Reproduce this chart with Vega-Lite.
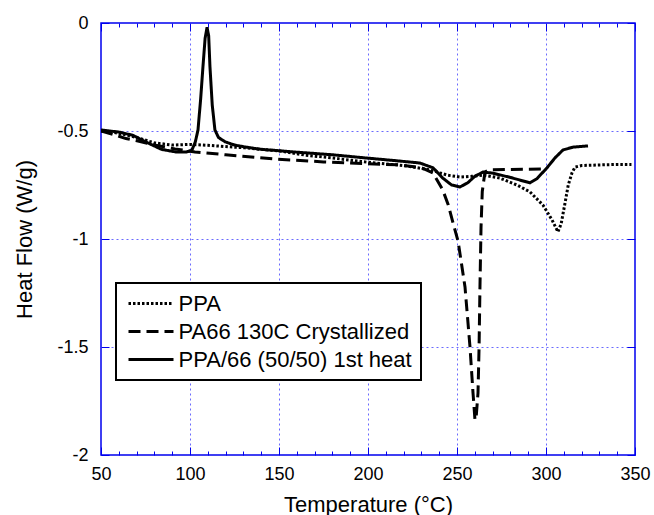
{
  "$schema": "https://vega.github.io/schema/vega-lite/v6.json",
  "width": 534,
  "height": 432,
  "autosize": {"type": "none"},
  "padding": {"left": 101, "top": 23, "right": 19, "bottom": 60},
  "config": {
    "view": {"stroke": "#0000ee", "strokeWidth": 1.5},
    "font": "Liberation Sans",
    "legend": {"strokeWidth": 2}
  },
  "data": {"values": [
    {"s": "PPA", "t": 50, "hf": -0.5},
    {"s": "PPA", "t": 60, "hf": -0.51},
    {"s": "PPA", "t": 70, "hf": -0.53},
    {"s": "PPA", "t": 80, "hf": -0.555},
    {"s": "PPA", "t": 90, "hf": -0.565},
    {"s": "PPA", "t": 100, "hf": -0.562},
    {"s": "PPA", "t": 110, "hf": -0.566},
    {"s": "PPA", "t": 120, "hf": -0.572},
    {"s": "PPA", "t": 131, "hf": -0.578},
    {"s": "PPA", "t": 140, "hf": -0.585},
    {"s": "PPA", "t": 150, "hf": -0.592},
    {"s": "PPA", "t": 165, "hf": -0.612},
    {"s": "PPA", "t": 180, "hf": -0.625},
    {"s": "PPA", "t": 200, "hf": -0.645},
    {"s": "PPA", "t": 220, "hf": -0.66},
    {"s": "PPA", "t": 235, "hf": -0.68},
    {"s": "PPA", "t": 240.4, "hf": -0.694},
    {"s": "PPA", "t": 245, "hf": -0.705},
    {"s": "PPA", "t": 251.7, "hf": -0.713},
    {"s": "PPA", "t": 258, "hf": -0.71},
    {"s": "PPA", "t": 264.6, "hf": -0.704},
    {"s": "PPA", "t": 274, "hf": -0.718},
    {"s": "PPA", "t": 283.7, "hf": -0.75},
    {"s": "PPA", "t": 291, "hf": -0.782},
    {"s": "PPA", "t": 298.3, "hf": -0.843},
    {"s": "PPA", "t": 303.4, "hf": -0.912},
    {"s": "PPA", "t": 306.7, "hf": -0.967},
    {"s": "PPA", "t": 308.5, "hf": -0.93},
    {"s": "PPA", "t": 310.7, "hf": -0.833},
    {"s": "PPA", "t": 312.5, "hf": -0.75},
    {"s": "PPA", "t": 314.6, "hf": -0.694},
    {"s": "PPA", "t": 316.3, "hf": -0.667},
    {"s": "PPA", "t": 320, "hf": -0.66},
    {"s": "PPA", "t": 330, "hf": -0.657},
    {"s": "PPA", "t": 340, "hf": -0.655},
    {"s": "PPA", "t": 348, "hf": -0.655},
    {"s": "PA66 130C Crystallized", "t": 50, "hf": -0.5},
    {"s": "PA66 130C Crystallized", "t": 57.9, "hf": -0.518},
    {"s": "PA66 130C Crystallized", "t": 64, "hf": -0.535},
    {"s": "PA66 130C Crystallized", "t": 70.8, "hf": -0.546},
    {"s": "PA66 130C Crystallized", "t": 80, "hf": -0.565},
    {"s": "PA66 130C Crystallized", "t": 91.6, "hf": -0.583},
    {"s": "PA66 130C Crystallized", "t": 102.8, "hf": -0.597},
    {"s": "PA66 130C Crystallized", "t": 120, "hf": -0.61},
    {"s": "PA66 130C Crystallized", "t": 147.8, "hf": -0.63},
    {"s": "PA66 130C Crystallized", "t": 175, "hf": -0.643},
    {"s": "PA66 130C Crystallized", "t": 200, "hf": -0.652},
    {"s": "PA66 130C Crystallized", "t": 218, "hf": -0.657},
    {"s": "PA66 130C Crystallized", "t": 230, "hf": -0.67},
    {"s": "PA66 130C Crystallized", "t": 236.5, "hf": -0.694},
    {"s": "PA66 130C Crystallized", "t": 242, "hf": -0.773},
    {"s": "PA66 130C Crystallized", "t": 245, "hf": -0.84},
    {"s": "PA66 130C Crystallized", "t": 247.8, "hf": -0.926},
    {"s": "PA66 130C Crystallized", "t": 250.6, "hf": -1.01},
    {"s": "PA66 130C Crystallized", "t": 254.5, "hf": -1.222},
    {"s": "PA66 130C Crystallized", "t": 257.3, "hf": -1.5},
    {"s": "PA66 130C Crystallized", "t": 259, "hf": -1.713},
    {"s": "PA66 130C Crystallized", "t": 260.1, "hf": -1.838},
    {"s": "PA66 130C Crystallized", "t": 260.8, "hf": -1.82},
    {"s": "PA66 130C Crystallized", "t": 261.8, "hf": -1.713},
    {"s": "PA66 130C Crystallized", "t": 262.4, "hf": -1.5},
    {"s": "PA66 130C Crystallized", "t": 262.9, "hf": -1.222},
    {"s": "PA66 130C Crystallized", "t": 263.5, "hf": -0.944},
    {"s": "PA66 130C Crystallized", "t": 264.2, "hf": -0.78},
    {"s": "PA66 130C Crystallized", "t": 265.7, "hf": -0.69},
    {"s": "PA66 130C Crystallized", "t": 268, "hf": -0.68},
    {"s": "PA66 130C Crystallized", "t": 280, "hf": -0.678},
    {"s": "PA66 130C Crystallized", "t": 290, "hf": -0.677},
    {"s": "PA66 130C Crystallized", "t": 299, "hf": -0.676},
    {"s": "PPA/66 (50/50) 1st heat", "t": 50, "hf": -0.495},
    {"s": "PPA/66 (50/50) 1st heat", "t": 60, "hf": -0.505},
    {"s": "PPA/66 (50/50) 1st heat", "t": 68, "hf": -0.52},
    {"s": "PPA/66 (50/50) 1st heat", "t": 75, "hf": -0.55},
    {"s": "PPA/66 (50/50) 1st heat", "t": 84, "hf": -0.585},
    {"s": "PPA/66 (50/50) 1st heat", "t": 92, "hf": -0.597},
    {"s": "PPA/66 (50/50) 1st heat", "t": 98, "hf": -0.597},
    {"s": "PPA/66 (50/50) 1st heat", "t": 101, "hf": -0.59},
    {"s": "PPA/66 (50/50) 1st heat", "t": 103, "hf": -0.55},
    {"s": "PPA/66 (50/50) 1st heat", "t": 104.5, "hf": -0.495},
    {"s": "PPA/66 (50/50) 1st heat", "t": 106, "hf": -0.35},
    {"s": "PPA/66 (50/50) 1st heat", "t": 107.3, "hf": -0.2},
    {"s": "PPA/66 (50/50) 1st heat", "t": 108.5, "hf": -0.07},
    {"s": "PPA/66 (50/50) 1st heat", "t": 109.6, "hf": -0.02},
    {"s": "PPA/66 (50/50) 1st heat", "t": 110.5, "hf": -0.06},
    {"s": "PPA/66 (50/50) 1st heat", "t": 111.2, "hf": -0.2},
    {"s": "PPA/66 (50/50) 1st heat", "t": 112.5, "hf": -0.38},
    {"s": "PPA/66 (50/50) 1st heat", "t": 114, "hf": -0.495},
    {"s": "PPA/66 (50/50) 1st heat", "t": 116, "hf": -0.53},
    {"s": "PPA/66 (50/50) 1st heat", "t": 119.7, "hf": -0.55},
    {"s": "PPA/66 (50/50) 1st heat", "t": 125, "hf": -0.565},
    {"s": "PPA/66 (50/50) 1st heat", "t": 131, "hf": -0.574},
    {"s": "PPA/66 (50/50) 1st heat", "t": 140, "hf": -0.585},
    {"s": "PPA/66 (50/50) 1st heat", "t": 148, "hf": -0.59},
    {"s": "PPA/66 (50/50) 1st heat", "t": 160, "hf": -0.598},
    {"s": "PPA/66 (50/50) 1st heat", "t": 180, "hf": -0.61},
    {"s": "PPA/66 (50/50) 1st heat", "t": 199, "hf": -0.625},
    {"s": "PPA/66 (50/50) 1st heat", "t": 215, "hf": -0.637},
    {"s": "PPA/66 (50/50) 1st heat", "t": 229, "hf": -0.648},
    {"s": "PPA/66 (50/50) 1st heat", "t": 236.5, "hf": -0.67},
    {"s": "PPA/66 (50/50) 1st heat", "t": 242, "hf": -0.718},
    {"s": "PPA/66 (50/50) 1st heat", "t": 247, "hf": -0.75},
    {"s": "PPA/66 (50/50) 1st heat", "t": 251.7, "hf": -0.759},
    {"s": "PPA/66 (50/50) 1st heat", "t": 256, "hf": -0.74},
    {"s": "PPA/66 (50/50) 1st heat", "t": 260, "hf": -0.71},
    {"s": "PPA/66 (50/50) 1st heat", "t": 264.6, "hf": -0.69},
    {"s": "PPA/66 (50/50) 1st heat", "t": 270, "hf": -0.695},
    {"s": "PPA/66 (50/50) 1st heat", "t": 280, "hf": -0.715},
    {"s": "PPA/66 (50/50) 1st heat", "t": 291, "hf": -0.74},
    {"s": "PPA/66 (50/50) 1st heat", "t": 295, "hf": -0.72},
    {"s": "PPA/66 (50/50) 1st heat", "t": 300.6, "hf": -0.67},
    {"s": "PPA/66 (50/50) 1st heat", "t": 305, "hf": -0.625},
    {"s": "PPA/66 (50/50) 1st heat", "t": 309.5, "hf": -0.588},
    {"s": "PPA/66 (50/50) 1st heat", "t": 315, "hf": -0.575},
    {"s": "PPA/66 (50/50) 1st heat", "t": 323.6, "hf": -0.569}
  ]},
  "layer": [
    {
      "mark": {"type": "line", "clip": true},
      "encoding": {
        "x": {
          "field": "t", "type": "quantitative",
          "scale": {"domain": [50, 350], "nice": false, "zero": false},
          "axis": {
            "orient": "bottom",
            "values": [50, 60, 70, 80, 90, 100, 110, 120, 130, 140, 150, 160, 170, 180, 190, 200, 210, 220, 230, 240, 250, 260, 270, 280, 290, 300, 310, 320, 330, 340, 350],
            "labelExpr": "datum.value % 50 === 0 ? toString(datum.value) : ''",
            "labelFontSize": 18, "labelColor": "black", "labelPadding": 18,
            "labelFlush": false, "labelOverlap": false,
            "domain": false,
            "tickColor": "#0000ee",
            "tickSize": {"condition": {"test": "datum.value % 50 === 0", "value": -8}, "value": -4},
            "grid": true, "gridColor": "#6a6aff", "gridDash": [2, 3], "gridWidth": 1,
            "gridOpacity": {"condition": {"test": "datum.value % 50 === 0 && datum.value > 50 && datum.value < 350", "value": 1}, "value": 0},
            "title": "Temperature (°C)", "titleFontSize": 22, "titleFontWeight": "normal", "titleColor": "black", "titlePadding": 7
          }
        },
        "y": {
          "field": "hf", "type": "quantitative",
          "scale": {"domain": [-2, 0], "nice": false, "zero": false},
          "axis": {
            "orient": "left",
            "values": [-2, -1.5, -1, -0.5, 0],
            "labelExpr": "toString(datum.value)",
            "labelFontSize": 18, "labelColor": "black", "labelPadding": 21,
            "labelFlush": false, "labelOverlap": false,
            "domain": false,
            "tickColor": "#0000ee", "tickSize": -8,
            "grid": true, "gridColor": "#6a6aff", "gridDash": [2, 3], "gridWidth": 1,
            "gridOpacity": {"condition": {"test": "datum.value > -2 && datum.value < 0", "value": 1}, "value": 0},
            "title": "Heat Flow (W/g)", "titleFontSize": 22, "titleFontWeight": "normal", "titleColor": "black", "titlePadding": 20
          }
        },
        "color": {
          "field": "s", "type": "nominal",
          "scale": {"domain": ["PPA", "PA66 130C Crystallized", "PPA/66 (50/50) 1st heat"], "range": ["black", "black", "black"]},
          "legend": {"orient": "none", "legendX": 15, "legendY": 260, "title": null, "strokeColor": "black", "fillColor": "white", "padding": 9, "symbolType": "M-2.25,0H2.25", "symbolSize": 400, "symbolOffset": 14.5, "labelFontSize": 22, "labelColor": "black", "labelOffset": 16, "rowPadding": 5, "labelLimit": 400}
        },
        "strokeDash": {
          "field": "s", "type": "nominal",
          "scale": {"domain": ["PPA", "PA66 130C Crystallized", "PPA/66 (50/50) 1st heat"], "range": [[2.5, 2], [12, 6], [1, 0]]},
          "legend": {"orient": "none", "legendX": 15, "legendY": 260, "title": null, "strokeColor": "black", "fillColor": "white", "padding": 9, "symbolType": "M-2.25,0H2.25", "symbolSize": 400, "symbolOffset": 14.5, "labelFontSize": 22, "labelColor": "black", "labelOffset": 16, "rowPadding": 5, "labelLimit": 400}
        },
        "strokeWidth": {
          "field": "s", "type": "nominal",
          "scale": {"domain": ["PPA", "PA66 130C Crystallized", "PPA/66 (50/50) 1st heat"], "range": [3, 3, 2]},
          "legend": {"orient": "none", "legendX": 15, "legendY": 260, "title": null, "strokeColor": "black", "fillColor": "white", "padding": 9, "symbolType": "M-2.25,0H2.25", "symbolSize": 400, "symbolOffset": 14.5, "labelFontSize": 22, "labelColor": "black", "labelOffset": 16, "rowPadding": 5, "labelLimit": 400}
        }
      }
    },
    {
      "mark": {"type": "line", "opacity": 0},
      "encoding": {
        "x": {
          "field": "t", "type": "quantitative",
          "scale": {"domain": [50, 350], "nice": false, "zero": false},
          "axis": {
            "orient": "top",
            "values": [50, 60, 70, 80, 90, 100, 110, 120, 130, 140, 150, 160, 170, 180, 190, 200, 210, 220, 230, 240, 250, 260, 270, 280, 290, 300, 310, 320, 330, 340, 350],
            "labels": false, "domain": false, "grid": false, "title": null,
            "tickColor": "#0000ee",
            "tickSize": {"condition": {"test": "datum.value % 50 === 0", "value": -8}, "value": -4}
          }
        },
        "y": {
          "field": "hf", "type": "quantitative",
          "scale": {"domain": [-2, 0], "nice": false, "zero": false},
          "axis": {
            "orient": "right",
            "values": [-2, -1.5, -1, -0.5, 0],
            "labels": false, "domain": false, "grid": false, "title": null,
            "tickColor": "#0000ee", "tickSize": -8
          }
        },
        "detail": {"field": "s", "type": "nominal"}
      }
    }
  ],
  "resolve": {"axis": {"x": "independent", "y": "independent"}}
}
